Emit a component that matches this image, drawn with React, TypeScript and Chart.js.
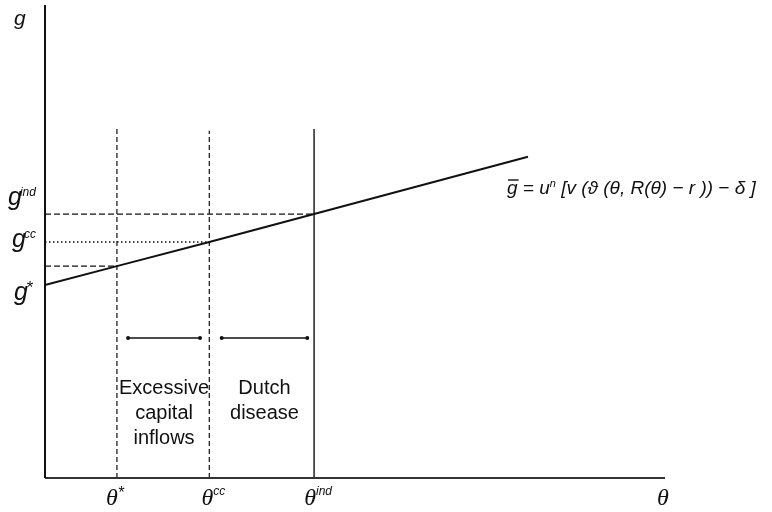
import { useEffect, useRef } from "react";
import { Chart, registerables } from "chart.js";

Chart.register(...registerables);

// θ positions: θ*, θcc, θind
const thetaMarks = [1.16, 2.65, 4.34];
const thetaSup = ["*", "cc", "ind"];
// growth levels g*, gcc, gind
const gMarks = [4.48, 4.99, 5.58];
const gSup = ["*", "cc", "ind"];
// tops of the vertical reference lines
const vTops = [7.42, 7.34, 7.38];
// the ḡ schedule
const curveX = [0, 1.16, 2.65, 4.34, 7.79];
const curveY = [4.08, 4.48, 4.99, 5.58, 6.79];
// range arrows
const arrowY = 2.96;
const arrow1 = [1.34, 2.5];
const arrow2 = [2.85, 4.23];
const axisMaxX = 10;
const axisMaxY = 10;
const label1 = ["Excessive", "capital", "inflows"];
const label2 = ["Dutch", "disease"];

const SANS = '"Liberation Sans", Arial, sans-serif';
const SERIF = '"Liberation Serif", "Times New Roman", serif';

const textPlugin = {
  id: "texts",
  afterDatasetsDraw(chart: any) {
    const ctx: CanvasRenderingContext2D = chart.ctx;
    const xs = chart.scales.x;
    const ys = chart.scales.y;
    ctx.save();
    ctx.fillStyle = "#111";
    ctx.textBaseline = "alphabetic";
    ctx.textAlign = "left";

    // vertical axis label
    ctx.font = `italic 21px ${SANS}`;
    ctx.fillText("g", xs.left - 31, ys.top + 20);

    // g labels on vertical axis
    const gLeft = [14, 12, 8];
    const gBase = [34, 5, -9];
    gMarks.forEach((v, i) => {
      const py = ys.getPixelForValue(v);
      const bx = gLeft[i];
      const by = py + gBase[i];
      ctx.font = `italic 25px ${SANS}`;
      ctx.fillText("g", bx, by);
      const w = ctx.measureText("g").width;
      if (i === 0) {
        ctx.font = `italic 17px ${SANS}`;
        ctx.fillText(gSup[i], bx + w - 2, by - 7);
      } else {
        ctx.font = `italic 12px ${SANS}`;
        ctx.fillText(gSup[i], bx + w - 2, by - 9);
      }
    });

    // θ labels on horizontal axis
    const thBase = xs.bottom + 27;
    thetaMarks.forEach((v, i) => {
      const px = xs.getPixelForValue(v);
      ctx.font = `italic 24px ${SERIF}`;
      const w = ctx.measureText("θ").width;
      const supFont = i === 0 ? `italic 16px ${SANS}` : `italic 12px ${SANS}`;
      ctx.font = supFont;
      const ws = ctx.measureText(thetaSup[i]).width;
      const total = w + ws;
      const left = px - total / 2 + (i === 0 ? -2 : 4);
      ctx.font = `italic 24px ${SERIF}`;
      ctx.fillText("θ", left, thBase);
      ctx.font = supFont;
      ctx.fillText(thetaSup[i], left + w, thBase - (i === 0 ? 7 : 10));
    });
    ctx.font = `italic 24px ${SERIF}`;
    ctx.textAlign = "center";
    ctx.fillText("θ", xs.right - 2, thBase);

    // range annotations
    ctx.font = `20px ${SANS}`;
    const ay = ys.getPixelForValue(arrowY);
    const c1 = (xs.getPixelForValue(arrow1[0]) + xs.getPixelForValue(arrow1[1])) / 2;
    const c2 = (xs.getPixelForValue(arrow2[0]) + xs.getPixelForValue(arrow2[1])) / 2;
    label1.forEach((t, i) => ctx.fillText(t, c1, ay + 56 + i * 25));
    label2.forEach((t, i) => ctx.fillText(t, c2, ay + 56 + i * 25));

    // formula
    ctx.textAlign = "left";
    const fx = 507;
    const fy = 194;
    const fs = 19;
    ctx.font = `italic ${fs}px ${SANS}`;
    let x = fx;
    ctx.fillText("g", x, fy);
    const gw = ctx.measureText("g").width;
    ctx.strokeStyle = "#111";
    ctx.lineWidth = 1.4;
    ctx.beginPath();
    ctx.moveTo(x + 1, fy - 14);
    ctx.lineTo(x + gw + 1, fy - 14);
    ctx.stroke();
    x += gw;
    const p1 = " = u";
    ctx.fillText(p1, x, fy);
    x += ctx.measureText(p1).width;
    ctx.font = `italic 11px ${SANS}`;
    ctx.fillText("n", x, fy - 7);
    x += ctx.measureText("n").width;
    ctx.font = `italic ${fs}px ${SANS}`;
    ctx.fillText(" [v (ϑ (θ, R(θ) − r )) − δ ]", x, fy);

    ctx.restore();
  },
};

function seg(x0: number, y0: number, x1: number, y1: number) {
  return [
    { x: x0, y: y0 },
    { x: x1, y: y1 },
  ];
}

export default function App() {
  const ref = useRef<HTMLCanvasElement | null>(null);
  useEffect(() => {
    if (!ref.current) return;
    const base = {
      borderColor: "#111",
      pointRadius: 0,
      fill: false,
      tension: 0,
      clip: false as any,
    };
    const datasets: any[] = [
      { ...base, data: seg(0, 0, 0, axisMaxY), borderWidth: 2 },
      { ...base, data: seg(0, 0, axisMaxX, 0), borderWidth: 2, borderColor: "#333" },
      { ...base, data: seg(thetaMarks[0], 0, thetaMarks[0], vTops[0]), borderWidth: 1.2, borderDash: [5, 3] },
      { ...base, data: seg(thetaMarks[1], 0, thetaMarks[1], vTops[1]), borderWidth: 1.2, borderDash: [5, 3] },
      { ...base, data: seg(thetaMarks[2], 0, thetaMarks[2], vTops[2]), borderWidth: 1.4 },
      { ...base, data: seg(0, gMarks[0], thetaMarks[0], gMarks[0]), borderWidth: 1.3, borderDash: [6, 3] },
      { ...base, data: seg(0, gMarks[1], thetaMarks[1], gMarks[1]), borderWidth: 1.5, borderDash: [1.5, 2.5] },
      { ...base, data: seg(0, gMarks[2], thetaMarks[2], gMarks[2]), borderWidth: 1.3, borderDash: [6, 3] },
      { ...base, data: curveX.map((v, i) => ({ x: v, y: curveY[i] })), borderWidth: 2 },
      {
        ...base,
        data: seg(arrow1[0], arrowY, arrow1[1], arrowY),
        borderWidth: 1.5,
        pointRadius: 2,
        pointBackgroundColor: "#111",
        pointBorderWidth: 0,
      },
      {
        ...base,
        data: seg(arrow2[0], arrowY, arrow2[1], arrowY),
        borderWidth: 1.5,
        pointRadius: 2,
        pointBackgroundColor: "#111",
        pointBorderWidth: 0,
      },
    ];
    const chart = new Chart(ref.current, {
      type: "line",
      data: { datasets },
      options: {
        animation: false,
        responsive: true,
        maintainAspectRatio: false,
        events: [],
        layout: { padding: { left: 45, right: 107, top: 5, bottom: 34 } },
        plugins: { legend: { display: false }, tooltip: { enabled: false } },
        scales: {
          x: { type: "linear", min: 0, max: axisMaxX, display: false },
          y: { type: "linear", min: 0, max: axisMaxY, display: false },
        },
      },
      plugins: [textPlugin],
    });
    return () => chart.destroy();
  }, []);
  return (
    <div style={{ position: "absolute", left: 0, top: 0, width: 772, height: 512, background: "#fff" }}>
      <canvas ref={ref} />
    </div>
  );
}
